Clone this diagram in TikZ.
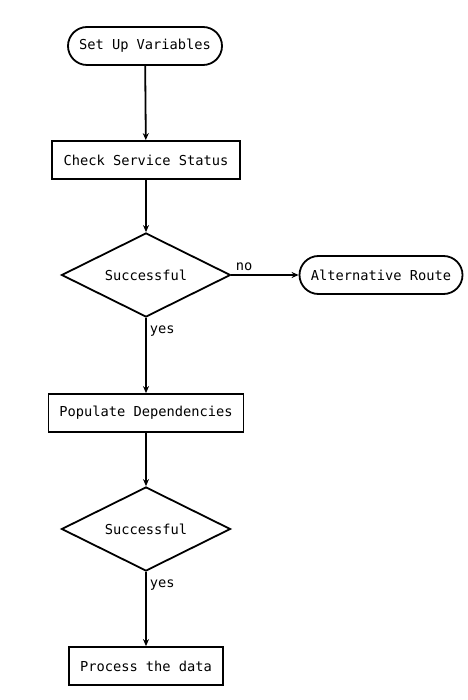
\documentclass[tikz,border=0pt]{standalone}
\usepackage{fontspec}
\setmonofont{DejaVu Sans Mono}
\usepackage{tikz}
\usetikzlibrary{shapes.geometric,arrows.meta}
\tikzstyle{term} = [draw, rectangle, rounded corners=19pt, inner sep=0pt, minimum height=38pt, text centered]
\tikzstyle{proc} = [draw, rectangle, inner sep=0pt, minimum height=38pt, text centered]
\tikzstyle{test} = [draw, diamond, aspect=2, inner sep=0pt, minimum width=169pt, minimum height=84pt, text centered]
\tikzstyle{lab} = [inner sep=3pt]

\begin{document}
\begin{tikzpicture}[x=1pt, y=-1pt, line width=1.8pt, font=\ttfamily\fontsize{13.7}{16}\selectfont, >={Stealth[length=7pt,width=6pt]}]
  \useasboundingbox (0,0) rectangle (467,700);
  \node (a) at (145,46) [term, minimum width=154pt] {Set Up Variables};
  \node (b) at (146,160) [proc, minimum width=188pt] {Check Service Status};
  \node (c) at (146,275) [test] {Successful};
  \node (d) at (381,275) [term, minimum width=163pt] {Alternative Route};
  \node (e) at (146,413) [proc, minimum width=195pt] {Populate Dependencies};
  \node (f) at (146,529) [test] {Successful};
  \node (g) at (146,666) [proc, minimum width=154pt] {Process the data};
  \draw [->] (a) -- (b);
  \draw [->] (b) -- (c);
  \draw [->] (c) -- node [pos=0.19, above, lab] {no} (d);
  \draw [->] (c) -- node [pos=0.18, right, lab] {yes} (e);
  \draw [->] (e) -- (f);
  \draw [->] (f) -- node [pos=0.18, right, lab] {yes} (g);
\end{tikzpicture}
\end{document}
